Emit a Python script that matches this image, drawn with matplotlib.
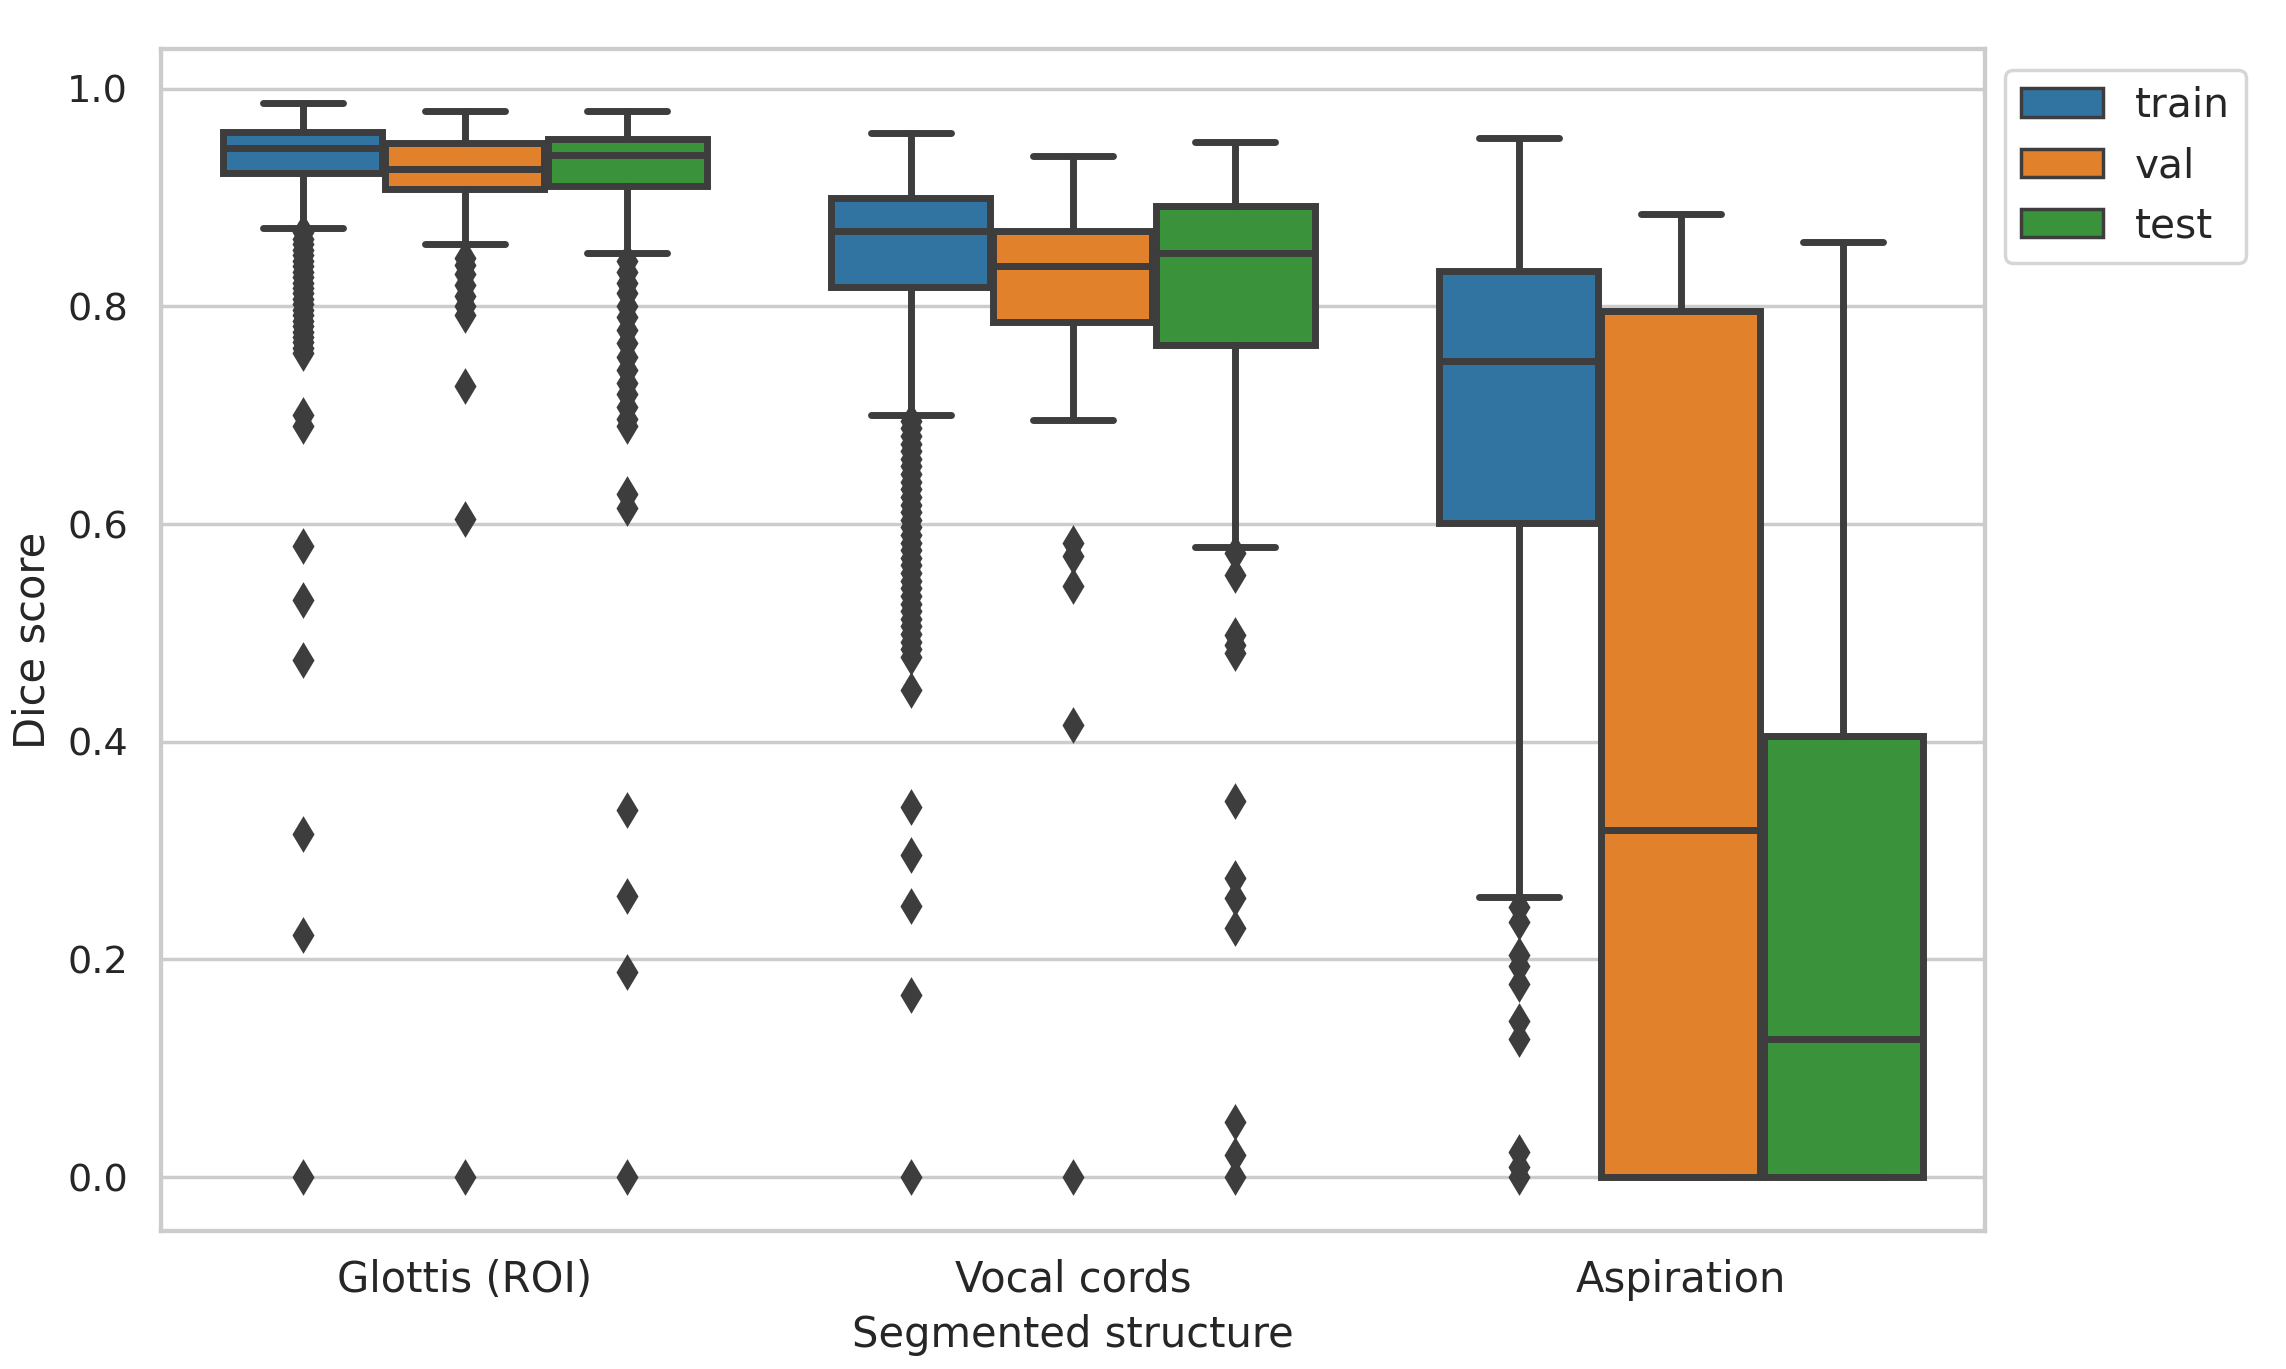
import matplotlib
matplotlib.use("Agg")
import matplotlib.pyplot as plt
from matplotlib.patches import Patch
import seaborn as sns

# categories and splits
structures = ["Glottis (ROI)", "Vocal cords", "Aspiration"]
splits = ["train", "val", "test"]
split_colors = ["#3274a1", "#e1812c", "#3a923a"]

# box statistics, order: structure x split
whisker_low = [
    [0.872, 0.857, 0.849],
    [0.700, 0.696, 0.579],
    [0.257, 0.000, 0.000],
]
q1 = [
    [0.923, 0.908, 0.911],
    [0.818, 0.786, 0.765],
    [0.601, 0.000, 0.000],
]
median = [
    [0.946, 0.926, 0.939],
    [0.869, 0.837, 0.849],
    [0.750, 0.319, 0.127],
]
q3 = [
    [0.960, 0.950, 0.954],
    [0.900, 0.869, 0.892],
    [0.833, 0.796, 0.405],
]
whisker_high = [
    [0.987, 0.980, 0.980],
    [0.959, 0.938, 0.951],
    [0.955, 0.885, 0.859],
]

# outliers
fliers = [
    [
        [0.868, 0.862, 0.857, 0.852, 0.847, 0.842, 0.837, 0.832, 0.827, 0.822,
         0.817, 0.812, 0.807, 0.802, 0.797, 0.792, 0.787, 0.782, 0.777, 0.772,
         0.767, 0.762, 0.757, 0.700, 0.690, 0.580, 0.530, 0.475, 0.315, 0.222, 0.0],
        [0.845, 0.838, 0.830, 0.820, 0.810, 0.800, 0.792, 0.727, 0.605, 0.0],
        [0.842, 0.832, 0.822, 0.812, 0.800, 0.790, 0.778, 0.766, 0.754, 0.742,
         0.730, 0.720, 0.708, 0.697, 0.690, 0.628, 0.615, 0.337, 0.258, 0.188, 0.0],
    ],
    [
        [0.695, 0.688, 0.681, 0.674, 0.667, 0.660, 0.653, 0.646, 0.639, 0.632,
         0.625, 0.618, 0.611, 0.604, 0.597, 0.590, 0.583, 0.576, 0.569, 0.562,
         0.555, 0.548, 0.541, 0.534, 0.527, 0.520, 0.513, 0.506, 0.499, 0.492,
         0.485, 0.478, 0.448, 0.340, 0.296, 0.249, 0.167, 0.0],
        [0.583, 0.571, 0.543, 0.415, 0.0],
        [0.573, 0.553, 0.498, 0.489, 0.482, 0.346, 0.275, 0.256, 0.229,
         0.051, 0.020, 0.0],
    ],
    [
        [0.248, 0.234, 0.204, 0.194, 0.177, 0.143, 0.127, 0.023, 0.009, 0.0],
        [],
        [],
    ],
]

sns.set_style("whitegrid")
sns.set_context("notebook")

gray = "#3d3d3d"
lw = 2.0
n = len(splits)
group_width = 0.8
each = group_width / n

fig, ax = plt.subplots(figsize=(9.144, 5.476))
fig.subplots_adjust(left=0.0704, right=0.8683, bottom=0.101, top=0.964)

for j, split in enumerate(splits):
    stats = []
    positions = []
    for i, name in enumerate(structures):
        stats.append({
            "med": median[i][j],
            "q1": q1[i][j],
            "q3": q3[i][j],
            "whislo": whisker_low[i][j],
            "whishi": whisker_high[i][j],
            "fliers": fliers[i][j],
        })
        positions.append(i - group_width / 2 + each / 2 + j * each)
    ax.bxp(
        stats,
        positions=positions,
        widths=each * 0.98,
        patch_artist=True,
        boxprops=dict(facecolor=split_colors[j], edgecolor=gray, linewidth=lw),
        medianprops=dict(color=gray, linewidth=lw),
        whiskerprops=dict(color=gray, linewidth=lw),
        capprops=dict(color=gray, linewidth=lw),
        flierprops=dict(marker="d", markersize=6, markerfacecolor=gray,
                        markeredgecolor=gray, linestyle="none"),
        manage_ticks=False,
    )

ax.set_xticks(range(len(structures)))
ax.set_xticklabels(structures, fontsize=12)
ax.tick_params(axis="x", pad=2)
ax.set_xlim(-0.5, len(structures) - 0.5)
ax.xaxis.grid(False)
ax.set_xlabel("Segmented structure")
ax.set_ylabel("Dice score")

handles = [Patch(facecolor=c, edgecolor=gray, linewidth=lw / 2, label=s)
           for s, c in zip(splits, split_colors)]
ax.legend(handles=handles, loc="upper left", bbox_to_anchor=(1, 1), fontsize=11.7)

fig.savefig("out.png", dpi=250)
